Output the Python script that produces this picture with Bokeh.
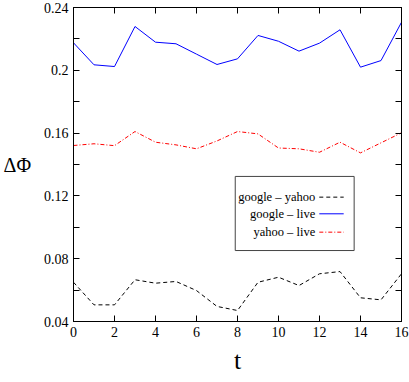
from bokeh.plotting import figure
from bokeh.models import (FixedTicker, LinearAxis, BoxAnnotation, Label, Range1d, Title)
from bokeh.embed import file_html
from bokeh.resources import INLINE

# ---- data ----
t = list(range(17))
google_yahoo = [0.065, 0.0506, 0.0506, 0.0666, 0.0644, 0.0655, 0.0597, 0.0496, 0.047,
                0.065, 0.0682, 0.0629, 0.0704, 0.0718, 0.0551, 0.0538, 0.0704]
google_live = [0.2175, 0.2035, 0.2024, 0.2279, 0.2179, 0.2169, 0.2103, 0.2037, 0.2073,
               0.2222, 0.2185, 0.2122, 0.2173, 0.2258, 0.202, 0.2062, 0.2306]
yahoo_live = [0.1521, 0.1532, 0.152, 0.161, 0.1542, 0.1525, 0.150, 0.155, 0.161,
              0.1595, 0.1505, 0.150, 0.1478, 0.1542, 0.1474, 0.1538, 0.1602]

series_names = ["google \u2013 yahoo", "google \u2013 live", "yahoo \u2013 live"]
x_ticks = [0, 2, 4, 6, 8, 10, 12, 14, 16]
y_ticks = [0.04, 0.08, 0.12, 0.16, 0.2, 0.24]
y_tick_labels = ["0.04", "0.08", "0.12", "0.16", "0.2", "0.24"]
y_minor_ticks = [0.06, 0.10, 0.14, 0.18, 0.22]
x_title = "t"
y_title = "\u0394\u03a6"

FONT = "Times New Roman"

p = figure(width=409, height=382, output_backend="svg", toolbar_location=None,
           x_range=Range1d(0, 16), y_range=Range1d(0.04, 0.24),
           min_border_left=70, min_border_right=8, min_border_top=7, min_border_bottom=61)
p.xgrid.visible = False
p.ygrid.visible = False
p.outline_line_color = "black"
p.outline_line_width = 1
p.background_fill_color = "white"
p.border_fill_color = "white"

def style_axis(ax, ticker):
    ax.ticker = ticker
    ax.axis_line_color = "black"
    ax.major_tick_line_color = "black"
    ax.minor_tick_line_color = "black"
    ax.major_tick_in = 6
    ax.major_tick_out = 0
    ax.minor_tick_in = 6
    ax.minor_tick_out = 0
    ax.major_label_text_font = FONT
    ax.major_label_text_font_style = "normal"
    ax.major_label_text_font_size = "14px"
    ax.major_label_text_color = "black"
    ax.major_label_standoff = 5
    ax.axis_label_text_font = "Liberation Serif"
    ax.axis_label_text_font_style = "normal"
    ax.axis_label_text_color = "black"

style_axis(p.xaxis[0], FixedTicker(ticks=x_ticks, minor_ticks=[]))
style_axis(p.yaxis[0], FixedTicker(ticks=y_ticks, minor_ticks=y_minor_ticks))
p.yaxis[0].major_label_overrides = {v: s for v, s in zip(y_ticks, y_tick_labels)}

# x title as a Title placed below the axis
p.add_layout(Title(text=x_title, align="center", text_font=FONT, text_font_size="26px",
                   text_font_style="normal", text_color="black", standoff=8), "below")
p.yaxis[0].axis_label = y_title
p.yaxis[0].axis_label_orientation = "horizontal"
p.yaxis[0].axis_label_text_font_size = "20px"
p.yaxis[0].axis_label_standoff = 10

# mirrored tick marks on top and right (unlabelled: ticks given as minor ticks)
top_ax = LinearAxis()
style_axis(top_ax, FixedTicker(ticks=[], minor_ticks=x_ticks))
p.add_layout(top_ax, "above")
right_ax = LinearAxis()
style_axis(right_ax, FixedTicker(ticks=[], minor_ticks=sorted(y_ticks + y_minor_ticks)))
p.add_layout(right_ax, "right")

p.line(t, google_yahoo, line_color="black", line_width=1, line_dash="4 3")
p.line(t, google_live, line_color="#0000ff", line_width=1)
p.line(t, yahoo_live, line_color="#ff0000", line_width=1, line_dash="4 2 1 2")

# ---- legend (label on the left, sample on the right) ----
box = BoxAnnotation(left=7.89, right=13.69, bottom=0.0852, top=0.1324,
                    fill_color="white", fill_alpha=1.0, line_color="#444444",
                    line_width=1, line_alpha=1.0, level="underlay")
p.add_layout(box)
row_y = [0.1192, 0.1086, 0.0969]
styles = [dict(line_color="black", line_dash="4 3"),
          dict(line_color="#0000ff", line_dash="solid"),
          dict(line_color="#ff0000", line_dash="4 2 1 2")]
for name, yy, st in zip(series_names, row_y, styles):
    p.add_layout(Label(x=11.79, y=yy, text=name, text_align="right",
                       text_baseline="middle", text_font=FONT,
                       text_font_size="12.5px", text_color="black"))
    p.line([11.99, 13.18], [yy, yy], line_width=1, **st)

open("out.html", "w").write(file_html(p, INLINE))
